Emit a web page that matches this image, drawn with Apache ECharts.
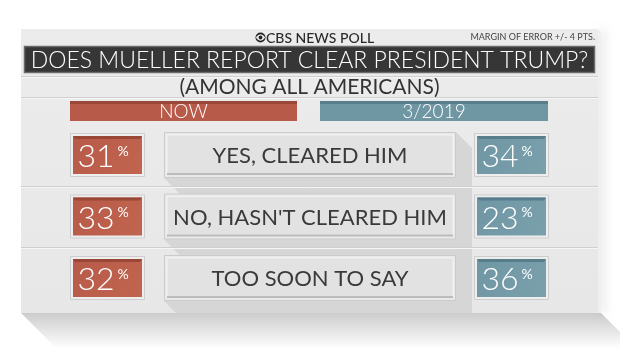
<!DOCTYPE html>
<html>
<head>
<meta charset="utf-8">
<script src="https://cdn.jsdelivr.net/npm/echarts@6/dist/echarts.min.js"></script>
<style>
  html, body { margin: 0; padding: 0; background: #ffffff; }
  #chart { width: 620px; height: 349px; }
</style>
</head>
<body>
<div id="chart"></div>
<script>
// Poll answers and results
const categories = ['YES, CLEARED HIM', "NO, HASN'T CLEARED HIM", 'TOO SOON TO SAY'];
const nowValues = [31, 33, 32];
const march2019Values = [34, 23, 36];
const columnLabels = ['NOW', '3/2019'];

const brandText = 'CBS NEWS POLL';
const marginText = 'MARGIN OF ERROR +/- 4 PTS.';
const titleText = 'DOES MUELLER REPORT CLEAR PRESIDENT TRUMP?';
const subtitleText = '(AMONG ALL AMERICANS)';

// Styling and layout
const FONT = 'Lato, "Open Sans", "DejaVu Sans", sans-serif';
const RED = '#b75a49', RED_DARK = '#9a4738', RED_LIGHT = '#c1654f';
const BLUE = '#6f96a3', BLUE_DARK = '#587e8b', BLUE_LIGHT = '#7aa0ac';
const PANEL = { l: 21, t: 29, r: 598, b: 313 };
const COL = { nowL: 70, nowR: 145, midL: 164, midR: 456, shadowR: 472, pastL: 474, pastR: 549 };
const HEADERS = [{ x0: 70, x1: 297, fill: RED, dark: RED_DARK }, { x0: 320, x1: 548, fill: BLUE, dark: BLUE_DARK }];
const SEPARATORS = [76, 97, 186, 247];
const SHADOW = '#d6d6d6';

const chart = echarts.init(document.getElementById('chart'), null, { renderer: 'canvas' });

function colourBox(x0, x1, c, value, fill, dark, light) {
  const top = c - 22, bot = c + 22;
  const cx = (x0 + x1) / 2;
  return [
    { type: 'rect', shape: { x: x0 + 0.5, y: top + 0.5, width: x1 - x0 - 1, height: bot - top - 1 },
      style: { fill: '#eeeeee', stroke: '#cdcdcd', lineWidth: 1 } },
    { type: 'rect', shape: { x: x0 + 3, y: top + 3, width: x1 - x0 - 6, height: bot - top - 6 },
      style: { fill: new echarts.graphic.LinearGradient(0, 0, 1, 1, [{ offset: 0, color: fill }, { offset: 1, color: light }]) } },
    { type: 'polygon', shape: { points: [[x0 + 3, top + 3], [x1 - 3, top + 3], [x1 - 5, top + 6], [x0 + 5, top + 6]] },
      style: { fill: dark } },
    { type: 'text', style: { text: String(value), x: cx + 7, y: c + 2, align: 'right', verticalAlign: 'middle',
      fontFamily: FONT, fontSize: 32, fontWeight: 300, fill: '#ffffff' } },
    { type: 'text', style: { text: '%', x: cx + 10, y: c - 4, align: 'left', verticalAlign: 'middle',
      fontFamily: FONT, fontSize: 14, fontWeight: 400, fill: '#ffffff' } }
  ];
}

function renderRow(params, api) {
  const idx = api.value(1);
  const c = api.coord([0, idx])[1];
  const label = categories[idx];
  const T = c - 23, B = c + 23;
  const L = COL.midL, R = COL.midR, X = COL.shadowR, Y = PANEL.b;
  const children = [
    // long shadow cast by the answer box
    { type: 'polygon', shape: { points: [[L, B], [R, T], [X, T + (X - R)], [X, Y], [L + (Y - B), Y]] },
      style: { fill: SHADOW } },
    // answer box
    { type: 'rect', shape: { x: L + 0.5, y: T + 0.5, width: R - L - 1, height: B - T - 1 },
      style: { fill: '#e9e9e9', stroke: '#cbcbcb', lineWidth: 1 } },
    { type: 'rect', shape: { x: L + 3, y: T + 3, width: R - L - 6, height: B - T - 7 },
      style: { fill: '#e2e2e2', stroke: '#f3f3f3', lineWidth: 1 } },
    { type: 'rect', shape: { x: L + 3, y: B - 5, width: R - L - 6, height: 2 },
      style: { fill: '#bcbcbc' } },
    { type: 'text', style: { text: label, x: (L + R) / 2, y: c + 1, align: 'center', verticalAlign: 'middle',
      fontFamily: FONT, fontSize: 22, fontWeight: 400, fill: '#3a3a3a' } }
  ].concat(
    colourBox(COL.nowL, COL.nowR, c, api.value(2), RED, RED_DARK, RED_LIGHT),
    colourBox(COL.pastL, COL.pastR, c, api.value(3), BLUE, BLUE_DARK, BLUE_LIGHT)
  );
  return { type: 'group', children };
}

// lens shape of the brand eye
function eyePoints(cx, cy, w, h) {
  const pts = [];
  for (let k = 0; k <= 12; k++) {
    const t = k / 12, x = cx - w + 2 * w * t;
    pts.push([x, cy - h * 4 * t * (1 - t)]);
  }
  for (let k = 11; k > 0; k--) {
    const t = k / 12, x = cx - w + 2 * w * t;
    pts.push([x, cy + h * 4 * t * (1 - t)]);
  }
  return pts;
}

// panel, heading band and column headers
const graphics = [
  // long shadow under the panel
  { type: 'polygon', z: 0, shape: { points: [[PANEL.l, PANEL.b], [PANEL.r + 3, PANEL.b], [PANEL.r + 39, 349], [PANEL.l + 36, 349]] },
    style: { fill: new echarts.graphic.LinearGradient(0, 0, 0, 1, [
      { offset: 0, color: 'rgba(0,0,0,0.2)' }, { offset: 1, color: 'rgba(0,0,0,0)' }]) } },
  // side face
  { type: 'polygon', z: 0, shape: { points: [[PANEL.r, PANEL.t], [PANEL.r + 3, PANEL.t + 3], [PANEL.r + 3, PANEL.b], [PANEL.r, PANEL.b]] },
    style: { fill: '#efefef', shadowBlur: 10, shadowOffsetX: 3, shadowColor: 'rgba(0,0,0,0.18)' } },
  { type: 'rect', z: 0, shape: { x: PANEL.l, y: PANEL.t, width: PANEL.r - PANEL.l, height: PANEL.b - PANEL.t },
    style: { fill: new echarts.graphic.LinearGradient(0, 0, 0, 1, [
      { offset: 0, color: '#ececec' }, { offset: 1, color: '#e7e7e7' }]) } },
  // brand line
  { type: 'circle', z: 1, shape: { cx: 260.5, cy: 37.5, r: 5 }, style: { fill: '#262626' } },
  { type: 'polygon', z: 1, shape: { points: eyePoints(260.5, 37.5, 4.6, 3.2) }, style: { fill: '#ececec' } },
  { type: 'circle', z: 1, shape: { cx: 260.5, cy: 37.5, r: 1.9 }, style: { fill: '#262626' } },
  { type: 'text', z: 1, style: { text: brandText, x: 266, y: 38, align: 'left', verticalAlign: 'middle',
    fontFamily: FONT, fontSize: 14, fontWeight: 500, fill: '#2a2a2a' } },
  { type: 'text', z: 1, style: { text: marginText, x: 595, y: 37.5, align: 'right', verticalAlign: 'middle',
    fontFamily: FONT, fontSize: 9, fill: '#444444' } },
  // title band
  { type: 'rect', z: 1, shape: { x: 24.5, y: 46.5, width: 570, height: 26 },
    style: { fill: '#363636', stroke: '#6a6a6a', lineWidth: 1.5 } },
  { type: 'text', z: 1, style: { text: titleText, x: 309.5, y: 60.5, align: 'center', verticalAlign: 'middle',
    fontFamily: FONT, fontSize: 23, fontWeight: 300, fill: '#ffffff' } },
  { type: 'text', z: 1, style: { text: subtitleText, x: 309.5, y: 87, align: 'center', verticalAlign: 'middle',
    fontFamily: FONT, fontSize: 21, fontWeight: 400, fill: '#333333' } }
];

SEPARATORS.forEach(function (y) {
  graphics.push({ type: 'line', z: 10, shape: { x1: PANEL.l, y1: y + 0.5, x2: PANEL.r, y2: y + 0.5 }, style: { stroke: '#cfcfcf', lineWidth: 1 } });
  graphics.push({ type: 'line', z: 10, shape: { x1: PANEL.l, y1: y + 1.5, x2: PANEL.r, y2: y + 1.5 }, style: { stroke: '#f6f6f6', lineWidth: 1 } });
});

columnLabels.forEach(function (name, i) {
  const h = HEADERS[i];
  graphics.push({ type: 'rect', z: 1, shape: { x: h.x0, y: 101, width: h.x1 - h.x0, height: 20 }, style: { fill: h.fill } });
  graphics.push({ type: 'rect', z: 1, shape: { x: h.x0, y: 101, width: h.x1 - h.x0, height: 3 }, style: { fill: h.dark } });
  graphics.push({ type: 'text', z: 1, style: { text: name, x: (h.x0 + h.x1) / 2, y: 112, align: 'center', verticalAlign: 'middle',
    fontFamily: FONT, fontSize: 19, fontWeight: 300, fill: '#ffffff' } });
});

chart.setOption({
  animation: false,
  backgroundColor: '#ffffff',
  grid: { left: 0, right: 0, top: 124.25, height: 184.5 },
  xAxis: { type: 'value', min: 0, max: 620, show: false },
  yAxis: { type: 'category', data: categories, inverse: true, show: false },
  graphic: graphics,
  series: [{
    type: 'custom',
    z: 2,
    clip: false,
    renderItem: renderRow,
    data: categories.map(function (name, i) { return [0, i, nowValues[i], march2019Values[i]]; })
  }]
});
</script>
</body>
</html>
